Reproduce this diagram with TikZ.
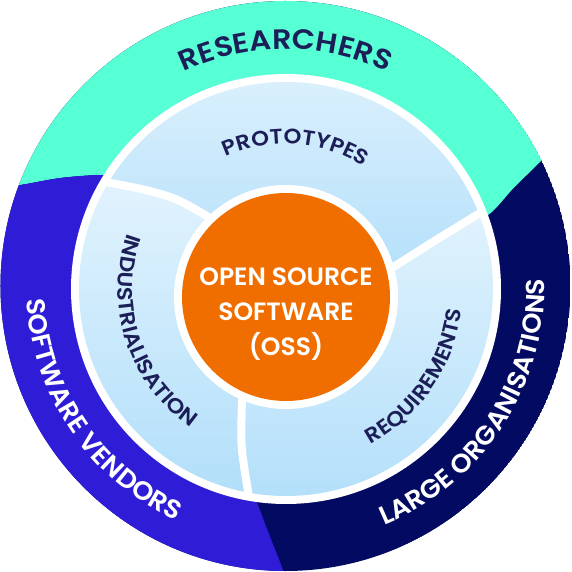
\documentclass[tikz,border=0pt]{standalone}
\usepackage{fontspec}
\setmainfont{Poppins}[BoldFont={* SemiBold}]
\newfontfamily\ringfam{Poppins}[BoldFont={* SemiBold}, FakeStretch=1.04]
\newfontfamily\topfam{Poppins}[BoldFont={* SemiBold}, FakeStretch=1.08]
\newfontfamily\petalfam{Poppins}[BoldFont={* SemiBold}, FakeStretch=1.08]
\usetikzlibrary{decorations.text}

\definecolor{mint}{RGB}{86,255,212}
\definecolor{vendor}{RGB}{46,28,214}
\definecolor{navy}{RGB}{3,10,98}
\definecolor{oss}{RGB}{240,110,0}
\definecolor{ink}{RGB}{28,30,88}
\definecolor{skytop}{RGB}{226,243,253}
\definecolor{skybot}{RGB}{176,222,250}

\newcommand\outerfont{\ringfam\bfseries\fontsize{26}{26}\selectfont}
\newcommand\topfont{\topfam\bfseries\fontsize{28}{28}\selectfont}
\newcommand\innerfont{\petalfam\bfseries\fontsize{21}{21}\selectfont}

\tikzset{
  sector/.style={top color=skytop, bottom color=skybot},
  gap/.style={white, line width=8pt},
  ringlabel/.style={decorate, decoration={text along path, text align=center, text color=#1}},
}

\begin{document}
\begin{tikzpicture}[x=1pt,y=1pt]
\useasboundingbox (-285.5,-286) rectangle (285.5,286);

\begin{scope}
  \clip (0,0) circle (285);
  \fill[navy] (0,0) circle (285);
  \fill[mint] (0,0) -- plot[smooth] coordinates {(170,60) (202.5,71) (227.8,97.7) (254.5,124) (280,150)}
    -- (35:420) -- (90:420) -- (160:420)
    -- plot[smooth] coordinates {(-300,97) (-265.5,101) (-225.5,108) (-185.5,111) (-160,108)} -- cycle;
  \fill[vendor] (0,0) -- plot[smooth] coordinates {(-160,108) (-185.5,111) (-225.5,108) (-265.5,101) (-300,97)}
    -- (170:420) -- (220:420) -- (265:420)
    -- plot[smooth] coordinates {(5,-310) (-2.5,-284) (-15.5,-250.7) (-27.5,-219) (-35,-200)} -- cycle;
\end{scope}

\fill[white] (0.5,-3) circle (215);
\begin{scope}
  \clip (0.5,-3) circle (207);
  \shade[sector] (0.5,-11) -- plot[smooth] coordinates {(80,5) (107.5,19) (150.5,46) (194.5,73) (215,85)}
    -- (20:222) arc[start angle=20, end angle=155, radius=222]
    -- plot[smooth] coordinates {(-215,110) (-180,104) (-140,96) (-110,87) (-82,72) (-60,58)} -- cycle;
  \shade[sector] (0.5,-11) -- plot[smooth] coordinates {(-60,58) (-82,72) (-110,87) (-140,96) (-180,104) (-215,110)}
    -- (155:222) arc[start angle=155, end angle=263, radius=222]
    -- plot[smooth] coordinates {(-35.7,-218) (-37.2,-207.3) (-43.8,-160.7) (-43.5,-114) (-42,-90)} -- cycle;
  \shade[sector] (0.5,-11) -- plot[smooth] coordinates {(-42,-90) (-43.5,-114) (-43.8,-160.7) (-37.2,-207.3) (-35.7,-218)}
    -- (263:222) arc[start angle=263, end angle=380, radius=222]
    -- plot[smooth] coordinates {(215,85) (194.5,73) (150.5,46) (107.5,19) (80,5)} -- cycle;
\end{scope}

\begin{scope}
  \clip (0.5,-3) circle (211);
  \draw[gap] plot[smooth] coordinates {(-215,110) (-180,104) (-140,96) (-110,87) (-82,72) (-60,58)};
  \draw[gap] plot[smooth] coordinates {(215,85) (194.5,73) (150.5,46) (107.5,19) (80,5)};
  \draw[gap] plot[smooth] coordinates {(-35.7,-218) (-37.2,-207.3) (-43.8,-160.7) (-43.5,-114) (-42,-90)};
\end{scope}

\fill[white] (0.5,-11) circle (112);
\fill[oss] (0.5,-11) circle (104);
\node[text=white, align=center, font=\bfseries\fontsize{25}{35}\selectfont] (core) at (0.5,-28)
  {OPEN SOURCE\\SOFTWARE\\(OSS)};

\path[ringlabel=ink, decoration={text={|\topfont|RESEARCHERS}}]
  (150:237) arc[start angle=150, end angle=30, radius=237];
\path[ringlabel=white, decoration={text={|\outerfont|SOFTWARE VENDORS}}]
  (154:259) arc[start angle=154, end angle=274, radius=259];
\path[ringlabel=white, decoration={text={|\outerfont|LARGE ORGANISATIONS}}]
  (267:259) arc[start angle=267, end angle=387, radius=259];

\path[ringlabel=ink, decoration={text={|\innerfont|PROTOTYPES}}]
  (0.5,-3) ++(146:145) arc[start angle=146, end angle=26, radius=145];
\path[ringlabel=ink, decoration={text={|\innerfont|INDUSTRIALISATION}}]
  (0.5,-3) ++(138:168) arc[start angle=138, end angle=258, radius=168];
\path[ringlabel=ink, decoration={text={|\innerfont|REQUIREMENTS}}]
  (0.5,-3) ++(266:177) arc[start angle=266, end angle=386, radius=177];
\end{tikzpicture}
\end{document}
